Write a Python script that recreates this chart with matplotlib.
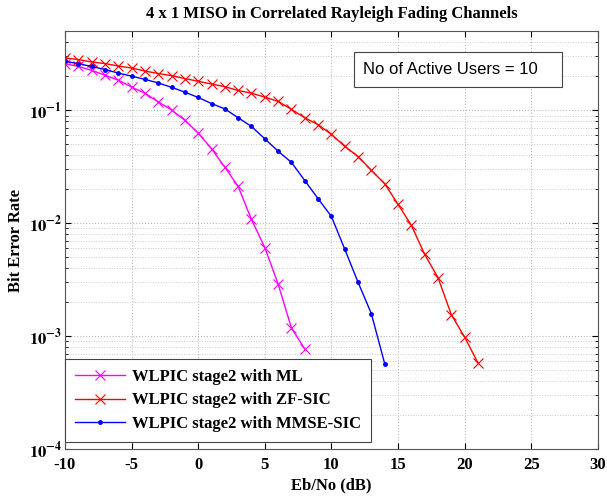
"""plot.py — BER vs Eb/No, 4x1 MISO in correlated Rayleigh fading"""
import math

import matplotlib
matplotlib.use("Agg")
import matplotlib.pyplot as plt
from matplotlib.patches import Rectangle
from matplotlib.ticker import FuncFormatter, LogLocator, NullFormatter

# ───── Data ────────────────────────────────────────────────────────────────
snr_ml = list(range(-10, 9))
ber_ml = [0.259, 0.245, 0.226, 0.205, 0.185, 0.161, 0.142, 0.119, 0.101, 0.0815,
          0.063, 0.0457, 0.0314, 0.0212, 0.0108, 0.0061, 0.0029, 0.00118, 0.00077]

snr_zf = list(range(-10, 22))
ber_zf = [0.291, 0.282, 0.268, 0.260, 0.247, 0.237, 0.223, 0.212, 0.203, 0.191,
          0.181, 0.171, 0.162, 0.150, 0.142, 0.131, 0.120, 0.102, 0.086, 0.0747,
          0.0613, 0.048, 0.039, 0.0294, 0.0224, 0.0147, 0.0096, 0.0053, 0.0033,
          0.00155, 0.00098, 0.00058]

snr_mmse = list(range(-10, 15))
ber_mmse = [0.272, 0.259, 0.245, 0.230, 0.214, 0.201, 0.188, 0.175, 0.160, 0.145,
            0.130, 0.115, 0.103, 0.086, 0.072, 0.056, 0.0435, 0.0346, 0.0239, 0.0165,
            0.0115, 0.0059, 0.0030, 0.00158, 0.00057]

labels = ["WLPIC stage2 with ML", "WLPIC stage2 with ZF-SIC", "WLPIC stage2 with MMSE-SIC"]

# ───── Chart ───────────────────────────────────────────────────────────────
plt.rcParams["mathtext.fontset"] = "stix"
plt.rcParams["axes.unicode_minus"] = False
serif = "Liberation Serif"

fig = plt.figure(figsize=(6.07, 4.99), dpi=100)
ax = fig.add_axes([0.107, 0.1, 0.878, 0.837])

ax.semilogy(snr_ml, ber_ml, color="#FF00FF", marker="x", ms=7.5, mew=0.8, lw=1, label=labels[0])
ax.semilogy(snr_zf, ber_zf, color="#FF0000", marker="x", ms=7.5, mew=0.8, lw=1, label=labels[1])
ax.semilogy(snr_mmse, ber_mmse, color="#0000FF", marker=".", ms=5, lw=1, label=labels[2])

ax.set_xlim(-10, 30)
ax.set_ylim(1e-4, 0.5)
ax.set_xticks(range(-10, 31, 5))
ax.yaxis.set_major_locator(LogLocator(base=10, numticks=10))
ax.yaxis.set_minor_locator(LogLocator(base=10, subs=range(2, 10), numticks=20))
ax.yaxis.set_minor_formatter(NullFormatter())
ax.yaxis.set_major_formatter(FuncFormatter(lambda v, p: r"$\mathbf{10^{%d}}$" % round(math.log10(v))))

ax.tick_params(which="both", direction="in", top=True, right=True)
ax.tick_params(which="major", length=4, labelsize=12, pad=6)
ax.tick_params(axis="y", which="major", labelsize=12, pad=2)
ax.tick_params(which="minor", length=2)
for lab in ax.get_xticklabels():
    lab.set_fontfamily(serif)
    lab.set_fontweight("bold")

ax.grid(True, which="major", ls=":", color="#bbbbbb", lw=0.8)
ax.grid(True, which="minor", ls=":", color="#cccccc", lw=0.7)
for s in ax.spines.values():
    s.set_color("#555555")

ax.set_title("4 x 1 MISO in Correlated Rayleigh Fading Channels",
             family=serif, fontweight="bold", fontsize=12, pad=10)
ax.set_xlabel("Eb/No (dB)", family=serif, fontweight="bold", fontsize=12, labelpad=3)
ax.set_ylabel("Bit Error Rate", family=serif, fontweight="bold", fontsize=12)
ax.yaxis.set_label_coords(-0.077, 0.5)

leg = ax.legend(loc="lower left", bbox_to_anchor=(0.0, 0.017), borderaxespad=0,
                prop={"family": serif, "weight": "bold", "size": 12},
                fancybox=False, edgecolor="#444444", framealpha=1,
                handlelength=3.0, handletextpad=0.4, labelspacing=0.45, borderpad=0.6)
leg.get_frame().set_linewidth(0.8)

# annotation box, text left-aligned inside a wider frame
ax.add_patch(Rectangle((0.542, 0.866), 0.39, 0.084, transform=ax.transAxes,
                       fc="white", ec="#444444", lw=0.8, zorder=5))
ax.text(0.559, 0.908, "No of Active Users = 10", transform=ax.transAxes,
        family="Liberation Sans", fontsize=12, ha="left", va="center", zorder=6)

fig.savefig("out.png", dpi=100)
